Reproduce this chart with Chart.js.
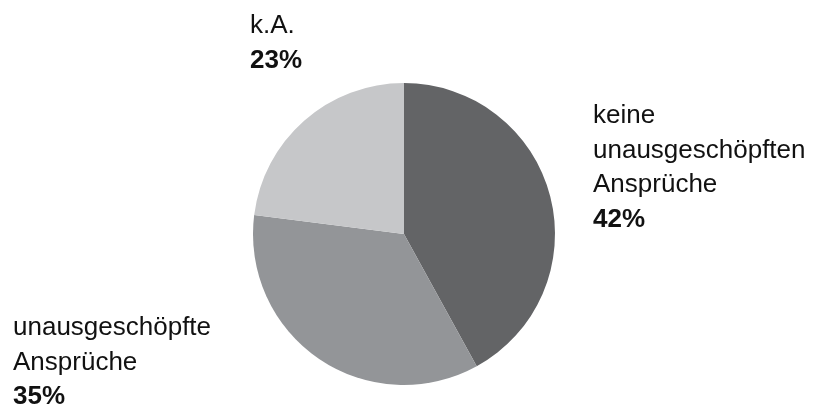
<!DOCTYPE html>
<html lang="de">
<head>
  <meta charset="UTF-8" />
  <script src="https://cdn.jsdelivr.net/npm/chart.js"></script>
  <title>Ansprüche</title>
  <style>
    html, body { margin: 0; padding: 0; background: #fff; }
    #wrap { width: 817px; height: 405px; }
  </style>
</head>
<body>
  <div id="wrap"><canvas id="grafico" width="817" height="405"></canvas></div>
  <script>
    // Kategorien und Anteile (Prozent)
    const kategorien = [
      ['keine', 'unausgeschöpften', 'Ansprüche'],
      ['unausgeschöpfte', 'Ansprüche'],
      ['k.A.']
    ];
    const anteile = [42, 35, 23];
    const farben = ['#636466', '#939598', '#c6c7c9'];

    // Wo die Beschriftung jedes Segments steht (linke Kante, erste Grundlinie)
    const beschriftungPos = [
      { x: 593, y: 123 },
      { x: 13, y: 335 },
      { x: 250, y: 33 }
    ];
    const zeilenAbstand = 34.5;

    // zeichnet die Texte neben dem Kreis
    const beschriftungen = {
      id: 'beschriftungen',
      afterDraw(chart) {
        const ctx = chart.ctx;
        ctx.save();
        ctx.fillStyle = '#111';
        ctx.textAlign = 'left';
        ctx.textBaseline = 'alphabetic';
        kategorien.forEach((zeilen, i) => {
          const pos = beschriftungPos[i];
          let y = pos.y;
          ctx.font = '26px "Liberation Sans", Arial, sans-serif';
          zeilen.forEach(z => {
            ctx.fillText(z, pos.x, y);
            y += zeilenAbstand;
          });
          ctx.font = 'bold 26px "Liberation Sans", Arial, sans-serif';
          ctx.fillText(anteile[i] + '%', pos.x, y);
        });
        ctx.restore();
      }
    };

    const ctx = document.getElementById('grafico').getContext('2d');
    new Chart(ctx, {
      type: 'pie',
      data: {
        labels: kategorien.map(z => z.join(' ')),
        datasets: [{
          data: anteile,
          backgroundColor: farben,
          borderWidth: 0
        }]
      },
      options: {
        responsive: false,
        animation: false,
        layout: {
          padding: { left: 253, right: 262, top: 83, bottom: 20 }
        },
        plugins: {
          legend: { display: false },
          tooltip: { enabled: false }
        }
      },
      plugins: [beschriftungen]
    });
  </script>
</body>
</html>
